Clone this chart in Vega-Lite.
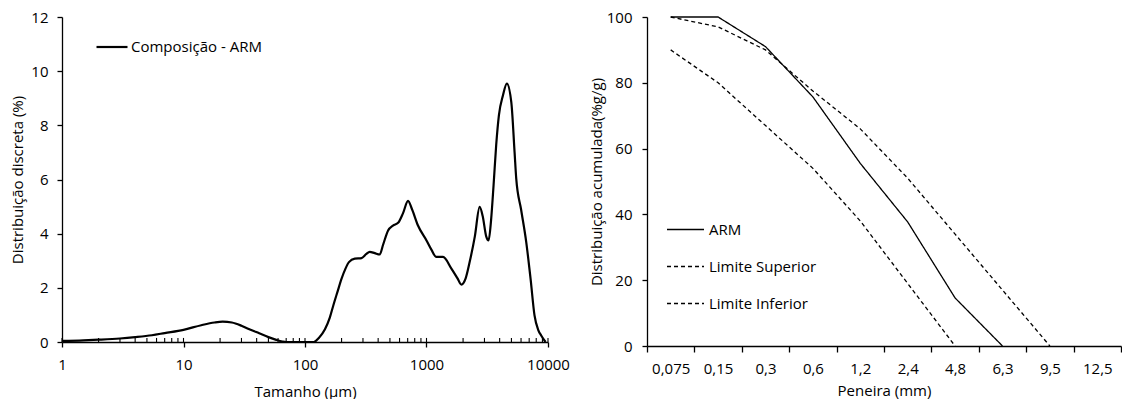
{
  "$schema": "https://vega.github.io/schema/vega-lite/v6.json",
  "background": "white",
  "padding": {"left": 10, "top": 10, "right": 0, "bottom": 0},
  "spacing": 19,
  "config": {
    "font": "Open Sans",
    "view": {"stroke": null},
    "axis": {"grid": false, "domainColor": "black", "tickColor": "black", "labelColor": "black", "titleColor": "black", "labelFont": "Open Sans", "titleFont": "Open Sans", "labelFontSize": 15, "titleFontSize": 15, "titleFontWeight": "normal", "domainWidth": 1.3, "tickWidth": 1.3},
    "legend": {"labelFont": "Open Sans", "labelFontSize": 15, "labelColor": "black"}
  },
  "datasets": {
    "psd": [
      {"tamanho": 1, "pct": 0.04}, {"tamanho": 1.5, "pct": 0.06}, {"tamanho": 2, "pct": 0.085}, {"tamanho": 3, "pct": 0.13},
      {"tamanho": 4, "pct": 0.18}, {"tamanho": 5.5, "pct": 0.25}, {"tamanho": 7, "pct": 0.33}, {"tamanho": 10, "pct": 0.45},
      {"tamanho": 14, "pct": 0.62}, {"tamanho": 18, "pct": 0.72}, {"tamanho": 21, "pct": 0.75}, {"tamanho": 25, "pct": 0.72},
      {"tamanho": 30, "pct": 0.6}, {"tamanho": 34, "pct": 0.49}, {"tamanho": 42, "pct": 0.32}, {"tamanho": 50, "pct": 0.18},
      {"tamanho": 58, "pct": 0.08}, {"tamanho": 65, "pct": 0.02}, {"tamanho": 70, "pct": 0}, {"tamanho": 100, "pct": 0},
      {"tamanho": 118, "pct": 0}, {"tamanho": 130, "pct": 0.15}, {"tamanho": 146, "pct": 0.47}, {"tamanho": 160, "pct": 0.9},
      {"tamanho": 171, "pct": 1.35}, {"tamanho": 185, "pct": 1.85}, {"tamanho": 200, "pct": 2.34}, {"tamanho": 215, "pct": 2.7},
      {"tamanho": 230, "pct": 2.95}, {"tamanho": 257, "pct": 3.08}, {"tamanho": 292, "pct": 3.1}, {"tamanho": 320, "pct": 3.25},
      {"tamanho": 341, "pct": 3.33}, {"tamanho": 375, "pct": 3.28}, {"tamanho": 412, "pct": 3.23}, {"tamanho": 440, "pct": 3.6},
      {"tamanho": 483, "pct": 4.12}, {"tamanho": 530, "pct": 4.3}, {"tamanho": 584, "pct": 4.4}, {"tamanho": 640, "pct": 4.75},
      {"tamanho": 705, "pct": 5.21}, {"tamanho": 760, "pct": 4.9}, {"tamanho": 851, "pct": 4.3}, {"tamanho": 1000, "pct": 3.75},
      {"tamanho": 1100, "pct": 3.4}, {"tamanho": 1205, "pct": 3.14}, {"tamanho": 1368, "pct": 3.14}, {"tamanho": 1603, "pct": 2.71},
      {"tamanho": 1800, "pct": 2.35}, {"tamanho": 1936, "pct": 2.12}, {"tamanho": 2100, "pct": 2.35}, {"tamanho": 2265, "pct": 2.95},
      {"tamanho": 2500, "pct": 3.9}, {"tamanho": 2737, "pct": 4.99}, {"tamanho": 2900, "pct": 4.65}, {"tamanho": 3100, "pct": 3.9},
      {"tamanho": 3243, "pct": 3.75}, {"tamanho": 3400, "pct": 4.5}, {"tamanho": 3564, "pct": 5.78}, {"tamanho": 3750, "pct": 7.3},
      {"tamanho": 3943, "pct": 8.37}, {"tamanho": 4256, "pct": 9.1}, {"tamanho": 4585, "pct": 9.54}, {"tamanho": 4988, "pct": 8.86},
      {"tamanho": 5309, "pct": 7.0}, {"tamanho": 5478, "pct": 6.03}, {"tamanho": 6000, "pct": 4.9}, {"tamanho": 6620, "pct": 3.69},
      {"tamanho": 7200, "pct": 2.3}, {"tamanho": 7745, "pct": 0.98}, {"tamanho": 8300, "pct": 0.45}, {"tamanho": 8790, "pct": 0.24},
      {"tamanho": 9545, "pct": 0}
    ],
    "minor": [
      {"tamanho": 1}, {"tamanho": 2}, {"tamanho": 3}, {"tamanho": 4}, {"tamanho": 5}, {"tamanho": 6}, {"tamanho": 7}, {"tamanho": 8}, {"tamanho": 9},
      {"tamanho": 10}, {"tamanho": 20}, {"tamanho": 30}, {"tamanho": 40}, {"tamanho": 50}, {"tamanho": 60}, {"tamanho": 70}, {"tamanho": 80}, {"tamanho": 90},
      {"tamanho": 100}, {"tamanho": 200}, {"tamanho": 300}, {"tamanho": 400}, {"tamanho": 500}, {"tamanho": 600}, {"tamanho": 700}, {"tamanho": 800}, {"tamanho": 900},
      {"tamanho": 1000}, {"tamanho": 2000}, {"tamanho": 3000}, {"tamanho": 4000}, {"tamanho": 5000}, {"tamanho": 6000}, {"tamanho": 7000}, {"tamanho": 8000}, {"tamanho": 9000},
      {"tamanho": 10000}
    ],
    "sieve": [
      {"peneira": "0,075", "serie": "ARM", "acum": 100},
      {"peneira": "0,15", "serie": "ARM", "acum": 100},
      {"peneira": "0,3", "serie": "ARM", "acum": 91},
      {"peneira": "0,6", "serie": "ARM", "acum": 75.7},
      {"peneira": "1,2", "serie": "ARM", "acum": 55.5},
      {"peneira": "2,4", "serie": "ARM", "acum": 37.7},
      {"peneira": "4,8", "serie": "ARM", "acum": 14.6},
      {"peneira": "6,3", "serie": "ARM", "acum": 0},
      {"peneira": "0,075", "serie": "Limite Superior", "acum": 100},
      {"peneira": "0,15", "serie": "Limite Superior", "acum": 97},
      {"peneira": "0,3", "serie": "Limite Superior", "acum": 90},
      {"peneira": "0,6", "serie": "Limite Superior", "acum": 77.5},
      {"peneira": "1,2", "serie": "Limite Superior", "acum": 66},
      {"peneira": "2,4", "serie": "Limite Superior", "acum": 51},
      {"peneira": "4,8", "serie": "Limite Superior", "acum": 34},
      {"peneira": "6,3", "serie": "Limite Superior", "acum": 17},
      {"peneira": "9,5", "serie": "Limite Superior", "acum": 0},
      {"peneira": "0,075", "serie": "Limite Inferior", "acum": 90},
      {"peneira": "0,15", "serie": "Limite Inferior", "acum": 80},
      {"peneira": "0,3", "serie": "Limite Inferior", "acum": 67},
      {"peneira": "0,6", "serie": "Limite Inferior", "acum": 54},
      {"peneira": "1,2", "serie": "Limite Inferior", "acum": 38},
      {"peneira": "2,4", "serie": "Limite Inferior", "acum": 19},
      {"peneira": "4,8", "serie": "Limite Inferior", "acum": 0}
    ]
  },
  "resolve": {"legend": {"stroke": "independent", "strokeDash": "independent"}},
  "hconcat": [
    {
      "width": 486,
      "height": 325,
      "layer": [
        {
          "data": {"name": "psd"},
          "mark": {"type": "line", "interpolate": "monotone", "strokeWidth": 2.2},
          "encoding": {
            "x": {"field": "tamanho", "type": "quantitative", "scale": {"type": "log", "domain": [1, 10000]},
                  "axis": {"values": [1, 10, 100, 1000, 10000], "format": "d", "tickSize": 5, "labelPadding": 10, "labelFlush": false, "title": "Tamanho (μm)", "titlePadding": 12}},
            "y": {"field": "pct", "type": "quantitative", "scale": {"domain": [0, 12]},
                  "axis": {"values": [0, 2, 4, 6, 8, 10, 12], "tickSize": 5, "labelPadding": 9, "title": "Distribuição discreta (%)", "titlePadding": 5}},
            "stroke": {"datum": "Composição - ARM", "type": "nominal", "scale": {"range": ["black"]},
                       "legend": {"title": null, "orient": "none", "legendX": 33, "legendY": 13, "symbolType": "stroke", "symbolSize": 961, "symbolStrokeWidth": 2.2, "labelOffset": 2, "padding": 0}}
          }
        },
        {
          "data": {"name": "minor"},
          "mark": {"type": "rule", "color": "black", "strokeWidth": 1.1},
          "encoding": {
            "x": {"field": "tamanho", "type": "quantitative"},
            "y": {"datum": 0, "type": "quantitative"},
            "y2": {"datum": 0.15}
          }
        }
      ]
    },
    {
      "width": 474,
      "height": 329,
      "data": {"name": "sieve"},
      "mark": {"type": "line", "color": "black", "strokeWidth": 1.3},
      "encoding": {
        "x": {"field": "peneira", "type": "nominal",
              "scale": {"type": "band", "paddingInner": 0, "paddingOuter": 0, "domain": ["0,075", "0,15", "0,3", "0,6", "1,2", "2,4", "4,8", "6,3", "9,5", "12,5"]},
              "bandPosition": 0.5,
              "axis": {"tickBand": "extent", "labelAngle": 0, "tickSize": 6, "labelPadding": 9, "title": "Peneira (mm)", "titlePadding": 7}},
        "y": {"field": "acum", "type": "quantitative", "scale": {"domain": [0, 100]},
              "axis": {"values": [0, 20, 40, 60, 80, 100], "tickSize": 5, "labelPadding": 10, "title": "Distribuição acumulada(%g/g)", "titlePadding": 2}},
        "strokeDash": {"field": "serie", "type": "nominal",
                       "scale": {"domain": ["ARM", "Limite Superior", "Limite Inferior"], "range": [[1, 0], [4, 3], [4, 3]]},
                       "legend": {"title": null, "orient": "none", "legendX": 19, "legendY": 193, "symbolType": "stroke", "symbolSize": 1369, "symbolStrokeWidth": 1.3, "symbolStrokeColor": "black", "rowPadding": 9, "labelOffset": 4, "padding": 0}}
      }
    }
  ]
}
